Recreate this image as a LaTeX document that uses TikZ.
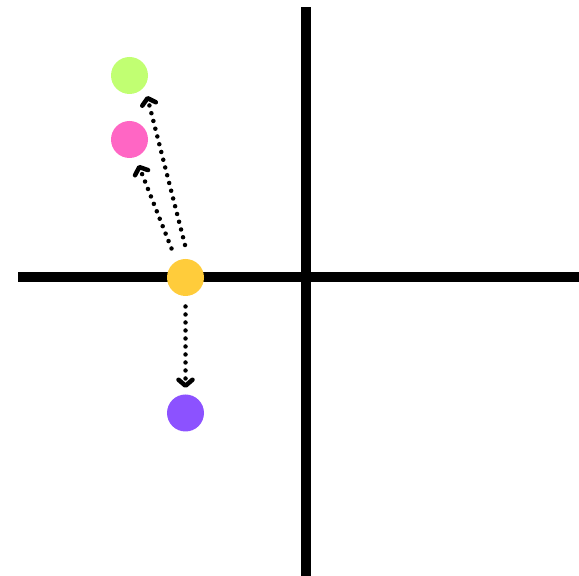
\documentclass[tikz,border=0pt]{standalone}
\usepackage{xcolor}
\usepackage{tikz}
\usetikzlibrary{arrows.meta}

\definecolor{limeDot}{HTML}{C1FF72}
\definecolor{pinkDot}{HTML}{FF66C4}
\definecolor{sunDot}{HTML}{FFCC3B}
\definecolor{violetDot}{HTML}{8C52FF}

\tikzset{
  dot/.style={circle,minimum size=37pt,inner sep=0pt},
  axis/.style={line width=10pt},
  flow/.style={line width=4.5pt,line cap=round,dash pattern=on 0pt off 8pt,
    -{Straight Barb[round,length=6pt,width=14pt]}}
}

\begin{document}
\begin{tikzpicture}[x=1pt,y=1pt]
\useasboundingbox (0,0) rectangle (579,576);
% axes
\draw[axis] (305.5,0) -- (305.5,569);
\draw[axis] (18,298.5) -- (579,298.5);
% points
\node[dot,fill=sunDot] (yellow) at (185.5,298.5) {};
\node[dot,fill=limeDot] (green) at (129.5,500.5) {};
\node[dot,fill=pinkDot] (pink) at (129.5,436.5) {};
\node[dot,fill=violetDot] (purple) at (185.5,163) {};
% moves
\draw[flow] ([shift={(-0.5,32.5)}]yellow.center) -- ([shift={(17.5,-20.5)}]green.center);
\draw[flow] ([shift={(-14,29)}]yellow.center) -- ([shift={(9,-25.5)}]pink.center);
\draw[flow] ([shift={(0,-29)}]yellow.center) -- ([shift={(0,25)}]purple.center);
\end{tikzpicture}
\end{document}
